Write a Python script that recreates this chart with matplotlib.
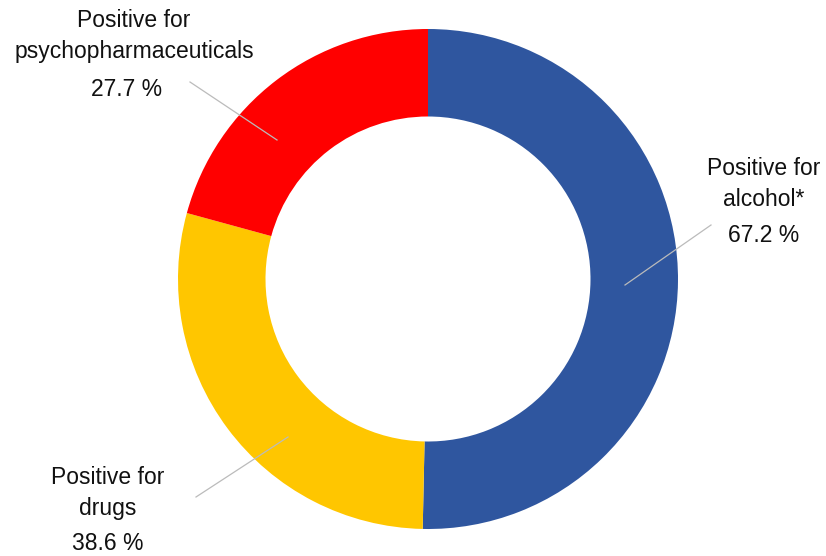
import matplotlib.pyplot as plt

labels = ["Positive for\nalcohol*", "Positive for\ndrugs", "Positive for\npsychopharmaceuticals"]
values = [67.2, 38.6, 27.7]
colors = ["#2F569F", "#FFC600", "#FF0000"]

plt.rcParams['font.family'] = ['Liberation Sans', 'DejaVu Sans']

W, H = 826, 556
CX, CY, R = 428, 279, 250


def px(x, y):
    # pixel position (from top-left) to data units of the donut
    return (x - CX) / R, (CY - y) / R


fig = plt.figure(figsize=(W / 100, H / 100), dpi=100)
ax = fig.add_axes([0, 0, 1, 1])
ax.pie(values, colors=colors, startangle=90, counterclock=False,
       radius=1, wedgeprops=dict(width=0.35, linewidth=0))
ax.set_xlim(px(0, 0)[0], px(W, 0)[0])
ax.set_ylim(px(0, H)[1], px(0, 0)[1])
ax.set_aspect('equal')
ax.axis('off')

# label text positions and leader line ends
label_pos = [(764, 184), (108, 493), (134, 36)]
pct_pos = [(764, 236), (108, 543), (127, 90)]
leaders = [((711, 225), (625, 285)), ((196, 497), (288, 437)), ((190, 82), (277, 140))]

for lab, v, lp, pp, (a, b) in zip(labels, values, label_pos, pct_pos, leaders):
    ax.text(*px(*lp), lab, ha='center', va='center', fontsize=16.5,
            linespacing=1.45, color='#111111')
    ax.text(*px(*pp), f"{v} %", ha='center', va='center', fontsize=16.5,
            color='#111111')
    (x0, y0), (x1, y1) = px(*a), px(*b)
    ax.plot([x0, x1], [y0, y1], color='#BBBBBB', lw=0.9)

fig.savefig("out.png", dpi=100)
